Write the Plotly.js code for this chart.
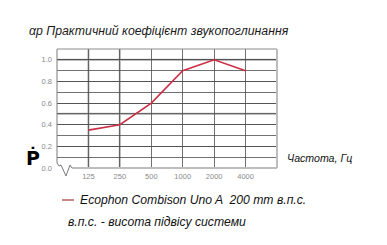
<!DOCTYPE html>
<html>
<head>
<meta charset="utf-8">
<script src="https://cdn.plot.ly/plotly-3.0.1.min.js"></script>
<style>html,body{margin:0;padding:0;background:#fff;}#chart{width:387px;height:245px;}</style>
</head>
<body>
<div id="chart"></div>
<script>
// ---- data ----
var frequencies = ['125', '250', '500', '1000', '2000', '4000'];
var alphaP = [0.35, 0.40, 0.60, 0.90, 1.00, 0.90];
var yTickVals = [0, 0.2, 0.4, 0.6, 0.8, 1.0];
var yTickText = ['0.0', '0.2', '0.4', '0.6', '0.8', '1.0'];
var seriesName = 'Ecophon Combison Uno A  200 mm в.п.с.';
var titleText = 'αp Практичний коефіцієнт звукопоглинання';
var xLabel = 'Частота, Гц';
var noteText = 'в.п.с. - висота підвісу системи';

// ---- geometry helpers (pixel -> paper) ----
var W = 387, H = 245, L = 57, R = 277, T = 49, B = 168;
function px(x) { return (x - L) / (R - L); }
function py(y) { return (B - y) / (B - T); }

var lineColor = '#cc2f45';
var gridDark = '#4e4e4e';
var gridLight = '#bdbdbd';
var font = 'Liberation Sans, Arial, sans-serif';

var trace = {
  x: frequencies.map(function (f, i) { return i; }),
  y: alphaP,
  type: 'scatter',
  mode: 'lines',
  line: { color: lineColor, width: 1.6 },
  hoverinfo: 'skip',
  showlegend: false
};

var shapes = [];
// thick light-gray grid lines at 1.0 and 0.5
[1.0, 0.5].forEach(function (v) {
  shapes.push({ type: 'line', xref: 'paper', yref: 'y', x0: 0, x1: 1, y0: v, y1: v,
    line: { color: gridLight, width: 2.2 }, layer: 'below' });
});
// thick light-gray verticals at first two categories
[0, 1].forEach(function (i) {
  shapes.push({ type: 'line', xref: 'x', yref: 'paper', x0: i, x1: i, y0: 0, y1: 1,
    line: { color: gridLight, width: 2.2 }, layer: 'below' });
});
// frame: top, right
shapes.push({ type: 'line', xref: 'paper', yref: 'paper', x0: 0, x1: 1, y0: 1, y1: 1,
  line: { color: '#8a8a8a', width: 1 } });
shapes.push({ type: 'line', xref: 'paper', yref: 'paper', x0: 1, x1: 1, y0: 0, y1: 1,
  line: { color: gridLight, width: 2 } });
// bottom axis (light gray thick)
shapes.push({ type: 'line', xref: 'paper', yref: 'paper', x0: px(72), x1: 1, y0: 0, y1: 0,
  line: { color: gridLight, width: 2 } });
// left border with zig-zag break
var zz = [[57, 49], [57, 163], [59, 166], [61, 165], [66, 176], [70, 165], [72, 168]];
var path = zz.map(function (p, k) { return (k ? 'L' : 'M') + px(p[0]).toFixed(4) + ',' + py(p[1]).toFixed(4); }).join(' ');
shapes.push({ type: 'path', xref: 'paper', yref: 'paper', path: path,
  line: { color: '#7a7a7a', width: 1 } });
// legend dash
shapes.push({ type: 'line', xref: 'paper', yref: 'paper', x0: px(62), x1: px(74), y0: py(200), y1: py(200),
  line: { color: '#a03a3a', width: 1.2 } });

var annotations = [
  { text: titleText, xref: 'paper', yref: 'paper', x: px(27), y: py(31), xanchor: 'left', yanchor: 'middle',
    showarrow: false, font: { family: font, size: 12.3, color: '#1a1a1a', style: 'italic' } },
  { text: xLabel, xref: 'paper', yref: 'paper', x: px(285), y: py(158), xanchor: 'left', yanchor: 'middle',
    showarrow: false, font: { family: font, size: 10.6, color: '#111', style: 'italic' } },
  { text: seriesName, xref: 'paper', yref: 'paper', x: px(78), y: py(200), xanchor: 'left', yanchor: 'middle',
    showarrow: false, font: { family: font, size: 12.2, color: '#111', style: 'italic' } },
  { text: noteText, xref: 'paper', yref: 'paper', x: px(66), y: py(222), xanchor: 'left', yanchor: 'middle',
    showarrow: false, font: { family: font, size: 12.2, color: '#111', style: 'italic' } },
  { text: '<b>Ṗ</b>', xref: 'paper', yref: 'paper', x: px(33), y: py(157), xanchor: 'center', yanchor: 'middle',
    showarrow: false, font: { family: 'DejaVu Sans, sans-serif', size: 19, color: '#000' } }
];

var layout = {
  width: W, height: H,
  margin: { l: L, r: W - R, t: T, b: H - B, pad: 0 },
  paper_bgcolor: '#fff', plot_bgcolor: '#fff',
  showlegend: false,
  xaxis: {
    range: [-1, 6], tickmode: 'array', tickvals: [0, 1, 2, 3, 4, 5], ticktext: frequencies,
    showgrid: true, gridcolor: gridDark, gridwidth: 0.8, zeroline: false, showline: false,
    ticks: '', ticklabelstandoff: 2,
    tickfont: { family: font, size: 7.5, color: '#8a8a8a' }, fixedrange: true
  },
  yaxis: {
    range: [0, 1.1], tickmode: 'array', tickvals: yTickVals, ticktext: yTickText,
    showgrid: true, gridcolor: gridDark, gridwidth: 0.8, zeroline: false, showline: false,
    minor: { dtick: 0.1, tick0: 0, showgrid: true, gridcolor: gridDark, gridwidth: 0.8, ticks: '' },
    ticks: '', ticklabelstandoff: 4,
    tickfont: { family: font, size: 7.5, color: '#8a8a8a' }, fixedrange: true
  },
  shapes: shapes,
  annotations: annotations
};

Plotly.newPlot('chart', [trace], layout, { staticPlot: true, displayModeBar: false });
</script>
</body>
</html>
